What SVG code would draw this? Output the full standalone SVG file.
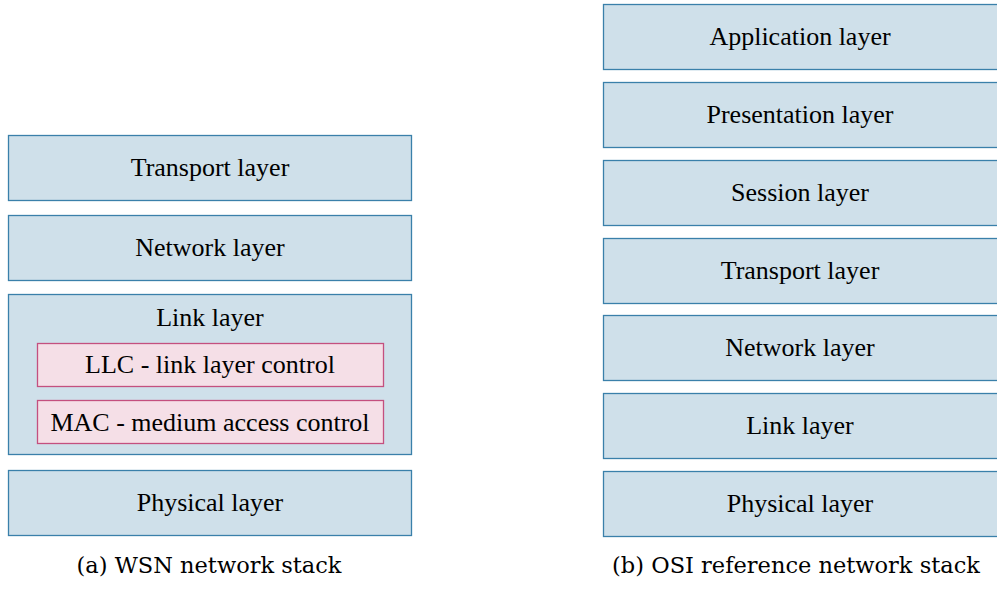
<svg xmlns="http://www.w3.org/2000/svg" width="997" height="596" viewBox="0 0 997 596">
<style>
.layer{fill:#cfe0ea;stroke:#3a80aa;stroke-width:1.3}
.sub{fill:#f5dfe7;stroke:#c4507f;stroke-width:1.3}
text{font-family:"Liberation Serif","Times New Roman",serif;font-size:26px;fill:#000;text-anchor:middle}
.cap{font-family:"DejaVu Serif","Liberation Serif",serif;font-size:22.5px}
</style>
<rect width="997" height="596" fill="#fff"/>
<g id="wsn">
<g id="wsn-transport"><rect class="layer" x="8.5" y="135.5" width="403" height="65"/><text x="210" y="176">Transport layer</text></g>
<g id="wsn-network"><rect class="layer" x="8.5" y="215.5" width="403" height="65"/><text x="210" y="256">Network layer</text></g>
<g id="wsn-link"><rect class="layer" x="8.5" y="294.5" width="403" height="160"/><text x="210" y="326">Link layer</text>
<g id="wsn-llc"><rect class="sub" x="37.5" y="343.5" width="346" height="43"/><text x="210" y="373">LLC - link layer control</text></g>
<g id="wsn-mac"><rect class="sub" x="37.5" y="400.5" width="346" height="43"/><text x="210" y="431">MAC - medium access control</text></g>
</g>
<g id="wsn-physical"><rect class="layer" x="8.5" y="470.5" width="403" height="65"/><text x="210" y="511">Physical layer</text></g>
<text class="cap" x="209" y="573">(a) WSN network stack</text>
</g>
<g id="osi">
<g id="osi-application"><rect class="layer" x="603.5" y="4.5" width="400" height="65"/><text x="800" y="45">Application layer</text></g>
<g id="osi-presentation"><rect class="layer" x="603.5" y="82.5" width="400" height="65"/><text x="800" y="123">Presentation layer</text></g>
<g id="osi-session"><rect class="layer" x="603.5" y="160.5" width="400" height="65"/><text x="800" y="201">Session layer</text></g>
<g id="osi-transport"><rect class="layer" x="603.5" y="238.5" width="400" height="65"/><text x="800" y="279">Transport layer</text></g>
<g id="osi-network"><rect class="layer" x="603.5" y="315.5" width="400" height="65"/><text x="800" y="356">Network layer</text></g>
<g id="osi-link"><rect class="layer" x="603.5" y="393.5" width="400" height="65"/><text x="800" y="434">Link layer</text></g>
<g id="osi-physical"><rect class="layer" x="603.5" y="471.5" width="400" height="65"/><text x="800" y="512">Physical layer</text></g>
<text class="cap" x="796" y="573">(b) OSI reference network stack</text>
</g>
<g id="connectors"/>
</svg>
